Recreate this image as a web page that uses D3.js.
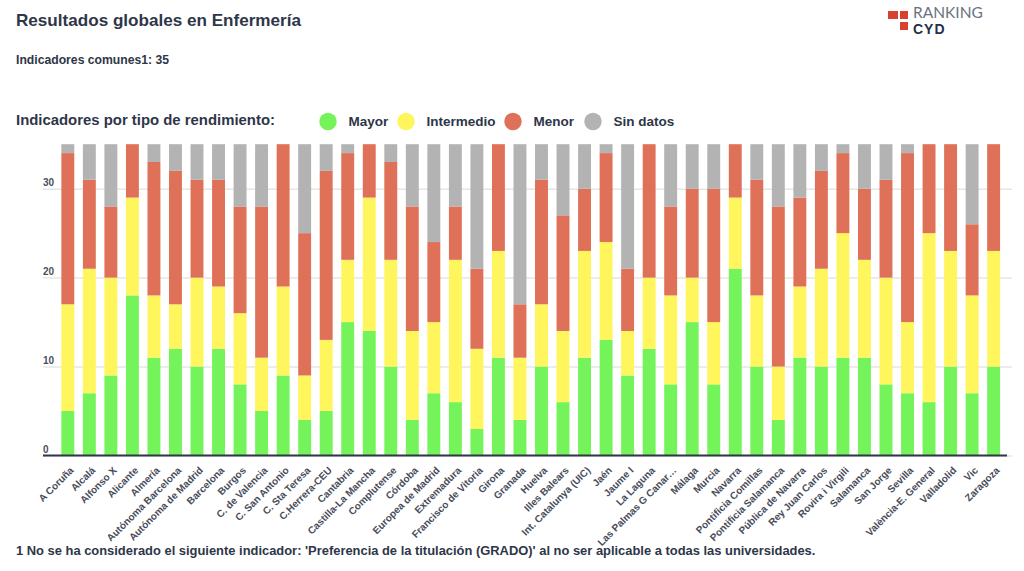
<!DOCTYPE html>
<html>
<head>
<meta charset="utf-8">
<script src="https://cdn.jsdelivr.net/npm/d3@7"></script>
<style>
    html, body { margin: 0; padding: 0; background: #fff; }
    svg { display: block; }
    text { font-family: "Liberation Sans", Arial, sans-serif; font-weight: bold; }
</style>
</head>
<body>
<div id="wrapper"></div>
<script>
const universities = ["A Coruña", "Alcalá", "Alfonso X", "Alicante", "Almería", "Autónoma Barcelona",
    "Autónoma de Madrid", "Barcelona", "Burgos", "C. de Valencia", "C. San Antonio", "C. Sta Teresa",
    "C.Herrera-CEU", "Cantabria", "Castilla-La Mancha", "Complutense", "Córdoba", "Europea de Madrid",
    "Extremadura", "Francisco de Vitoria", "Girona", "Granada", "Huelva", "Illes Balears",
    "Int. Catalunya (UIC)", "Jaén", "Jaume I", "La Laguna", "Las Palmas G Canar…", "Málaga", "Murcia",
    "Navarra", "Pontificia Comillas", "Pontificia Salamanca", "Pública de Navarra", "Rey Juan Carlos",
    "Rovira i Virgili", "Salamanca", "San Jorge", "Sevilla", "València-E. General", "Valladolid", "Vic",
    "Zaragoza"];

const mayor = [5, 7, 9, 18, 11, 12, 10, 12, 8, 5, 9, 4, 5, 15, 14, 10, 4, 7, 6, 3, 11, 4,
    10, 6, 11, 13, 9, 12, 8, 15, 8, 21, 10, 4, 11, 10, 11, 11, 8, 7, 6, 10, 7, 10];
const intermedio = [12, 14, 11, 11, 7, 5, 10, 7, 8, 6, 10, 5, 8, 7, 15, 12, 10, 8, 16, 9, 12, 7,
    7, 8, 12, 11, 5, 8, 10, 5, 7, 8, 8, 6, 8, 11, 14, 11, 12, 8, 19, 13, 11, 13];
const menor = [17, 10, 8, 6, 15, 15, 11, 12, 12, 17, 16, 16, 19, 12, 6, 11, 14, 9, 6, 9, 12, 6,
    14, 13, 7, 10, 7, 15, 10, 10, 15, 6, 13, 18, 10, 11, 9, 8, 11, 19, 10, 12, 8, 12];
const sinDatos = [1, 4, 7, 0, 2, 3, 4, 4, 7, 7, 0, 10, 3, 1, 0, 2, 7, 11, 7, 14, 0, 18,
    4, 8, 5, 1, 14, 0, 7, 5, 5, 0, 4, 7, 6, 3, 1, 5, 4, 1, 0, 0, 9, 0];

const seriesNames = ["Mayor", "Intermedio", "Menor", "Sin datos"];
const seriesColors = ["#74f35a", "#fef65c", "#df7159", "#b3b3b3"];
const yTicks = [0, 10, 20, 30];

const textColor = "#2e3648";

//table for the stack
const dataset = universities.map((name, i) => ({
    name,
    "Mayor": mayor[i],
    "Intermedio": intermedio[i],
    "Menor": menor[i],
    "Sin datos": sinDatos[i],
}));

const svg = d3.select("#wrapper").append("svg")
    .attr("width", 1024)
    .attr("height", 571);

//scales
const xScale = d3.scaleBand()
    .domain(universities)
    .range([57.05, 1004.4])
    .paddingInner(0.4)
    .paddingOuter(0.2);
const yScale = d3.scaleLinear()
    .domain([0, 35])
    .range([455.5, 144.2]);
const colorScale = d3.scaleOrdinal()
    .domain(seriesNames)
    .range(seriesColors);

//gridlines and y labels
const yAxis = svg.append("g")
    .attr("transform", "translate(43, 0)")
    .call(d3.axisRight(yScale).tickValues(yTicks).tickSize(969).tickPadding(0));
yAxis.select(".domain").remove();
yAxis.selectAll(".tick line")
    .attr("stroke", "#e6e6e6")
    .attr("stroke-width", 1.5);
yAxis.selectAll(".tick text")
    .attr("x", 0)
    .attr("dy", "-0.3em")
    .attr("text-anchor", "start")
    .attr("font-size", 10)
    .attr("fill", "#4a4f5c");

//bars
const stack = d3.stack().keys(seriesNames);
svg.append("g")
    .selectAll("g")
    .data(stack(dataset))
    .join("g")
    .attr("fill", d => colorScale(d.key))
    .selectAll("rect")
    .data(d => d)
    .join("rect")
    .attr("x", d => xScale(d.data.name))
    .attr("y", d => yScale(d[1]))
    .attr("width", xScale.bandwidth())
    .attr("height", d => yScale(d[0]) - yScale(d[1]));

//x axis
const xAxis = svg.append("g")
    .attr("transform", "translate(0, 455.5)")
    .call(d3.axisBottom(xScale).tickSize(0).tickPadding(0));
xAxis.select(".domain").remove();
xAxis.append("line")
    .attr("x1", 43)
    .attr("x2", 1007)
    .attr("stroke", textColor)
    .attr("stroke-width", 2);
xAxis.selectAll(".tick text")
    .attr("font-size", 10)
    .attr("fill", "#474c59")
    .attr("text-anchor", "end")
    .attr("dy", 0)
    .attr("y", 0)
    .attr("transform", "translate(6.5, 15.5) rotate(-45)");

//titles
svg.append("text")
    .attr("x", 16)
    .attr("y", 26)
    .attr("font-size", 17.1)
    .attr("fill", textColor)
    .text("Resultados globales en Enfermería");
svg.append("text")
    .attr("x", 16)
    .attr("y", 64)
    .attr("font-size", 12.2)
    .attr("fill", textColor)
    .text("Indicadores comunes1: 35");
svg.append("text")
    .attr("x", 16)
    .attr("y", 125)
    .attr("font-size", 14.9)
    .attr("fill", textColor)
    .text("Indicadores por tipo de rendimiento:");

//legend
const legendX = d3.scaleOrdinal()
    .domain(seriesNames)
    .range([328, 406, 513, 593]);
const legend = svg.append("g")
    .selectAll("g")
    .data(seriesNames)
    .join("g")
    .attr("transform", d => `translate(${legendX(d)}, 121.5)`);
legend.append("circle")
    .attr("r", 8.7)
    .attr("fill", d => colorScale(d));
legend.append("text")
    .attr("x", 20.5)
    .attr("y", 4.5)
    .attr("font-size", 13.5)
    .attr("fill", textColor)
    .text(d => d);

//footnote
svg.append("text")
    .attr("x", 16)
    .attr("y", 555)
    .attr("font-size", 12.92)
    .attr("fill", textColor)
    .text("1 No se ha considerado el siguiente indicador: 'Preferencia de la titulación (GRADO)' al no ser aplicable a todas las universidades.");

//logo
const logo = svg.append("g");
logo.selectAll("rect")
    .data([[888, 11], [900, 11], [900, 22]])
    .join("rect")
    .attr("x", d => d[0])
    .attr("y", d => d[1])
    .attr("width", d => d[0] === 888 ? 10 : 8)
    .attr("height", 8)
    .attr("fill", "#d8402f");
logo.append("text")
    .attr("x", 913)
    .attr("y", 18)
    .attr("font-size", 15.5)
    .attr("fill", "#6b7280")
    .style("font-family", "Lato")
    .style("font-weight", "normal")
    .text("RANKING");
logo.append("text")
    .attr("x", 913)
    .attr("y", 34)
    .attr("font-size", 14)
    .attr("letter-spacing", 1)
    .attr("fill", "#25304a")
    .text("CYD");
</script>
</body>
</html>
